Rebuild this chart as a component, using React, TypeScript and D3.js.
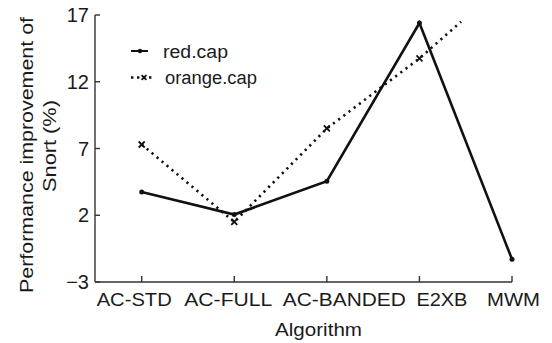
import React from "react";
import * as d3 from "d3";

const categories = ["AC-STD", "AC-FULL", "AC-BANDED", "E2XB", "MWM"];
const redCap = [3.75, 2.05, 4.55, 16.4, -1.3];
// orange.cap: the dotted line stops (no marker) part-way between E2XB and MWM
const orangeCap = [7.3, 1.5, 8.5, 13.75];
const orangeTail = { pos: 3.45, value: 16.5 };
const yTicks = [-3, 2, 7, 12, 17];
const seriesNames = ["red.cap", "orange.cap"];

// layout only: offset of each category label's left edge from its tick, and its drawn width
const xLabelDx = [-45, -50, -44, -3, -25];
const xLabelLen = [75, 88, 123, 51, 53];

const W = 552;
const H = 343;
const FONT = "Liberation Sans, Arial, sans-serif";

export default function App() {
  const x0 = 95;
  const xScale = d3.scaleLinear().domain([0, categories.length - 1]).range([141.7, 512]);
  const yScale = d3.scaleLinear().domain([-3, 17]).range([282, 15]);

  const line = d3
    .line<[number, number]>()
    .x((d) => xScale(d[0]))
    .y((d) => yScale(d[1]));

  const redPts: [number, number][] = redCap.map((v, i) => [i, v]);
  const orangePts: [number, number][] = orangeCap.map((v, i) => [i, v]);
  const orangeLinePts: [number, number][] = [...orangePts, [orangeTail.pos, orangeTail.value]];

  const stroke = "#111";
  const textFill = "#1a1a1a";
  const ts: React.CSSProperties = { fontFamily: FONT };

  const xMark = (cx: number, cy: number, s: number, key: string) => (
    <g key={key} stroke={stroke} strokeWidth={1.8}>
      <line x1={cx - s} y1={cy - s} x2={cx + s} y2={cy + s} />
      <line x1={cx - s} y1={cy + s} x2={cx + s} y2={cy - s} />
    </g>
  );

  return (
    <svg width={W} height={H} style={{ position: "absolute", left: 0, top: 0, background: "#fff" }}>
      <rect width={W} height={H} fill="#fff" />
      <g stroke="#333" strokeWidth={1.4} fill="none">
        <line x1={x0} y1={yScale(17)} x2={x0} y2={yScale(-3)} />
        <line x1={x0} y1={yScale(-3)} x2={xScale(4)} y2={yScale(-3)} />
        {yTicks.map((t) => (
          <line key={"yt" + t} x1={x0} x2={x0 + 5} y1={yScale(t)} y2={yScale(t)} />
        ))}
        {categories.map((c, i) => (
          <line key={"xt" + c} x1={xScale(i)} x2={xScale(i)} y1={yScale(-3)} y2={yScale(-3) - 6} />
        ))}
      </g>
      {yTicks.map((t) => (
        <text key={"yl" + t} x={89} y={yScale(t) + 7} textAnchor="end" fontSize={20} fill={textFill} style={ts}>
          {t < 0 ? "\u2212" + Math.abs(t) : t}
        </text>
      ))}
      {categories.map((c, i) => (
        <text
          key={"xl" + c}
          x={xScale(i) + xLabelDx[i]}
          y={306}
          fontSize={17.5}
          fill={textFill}
          style={ts}
          textLength={xLabelLen[i]}
          lengthAdjust="spacingAndGlyphs"
        >
          {c}
        </text>
      ))}
      <text x={275} y={336} fontSize={17.5} fill={textFill} style={ts} textLength={87} lengthAdjust="spacingAndGlyphs">
        Algorithm
      </text>
      <g transform="translate(33,293) rotate(-90)">
        <text x={0} y={0} fontSize={18} fill={textFill} style={ts} textLength={276} lengthAdjust="spacingAndGlyphs">
          Performance improvement of
        </text>
      </g>
      <g transform="translate(56,192) rotate(-90)">
        <text x={0} y={0} fontSize={18} fill={textFill} style={ts} textLength={92} lengthAdjust="spacingAndGlyphs">
          Snort (%)
        </text>
      </g>
      <path d={line(redPts) || ""} fill="none" stroke={stroke} strokeWidth={2.6} />
      <path d={line(orangeLinePts) || ""} fill="none" stroke={stroke} strokeWidth={2.6} strokeDasharray="2.2,4.3" />
      {redPts.map((d, i) => (
        <circle key={"rp" + i} cx={xScale(d[0])} cy={yScale(d[1])} r={2.5} fill={stroke} />
      ))}
      {orangePts.map((d, i) => xMark(xScale(d[0]), yScale(d[1]), 3, "op" + i))}
      <g>
        <line x1={131} x2={148} y1={51} y2={51} stroke={stroke} strokeWidth={2} />
        <circle cx={140} cy={51} r={2.2} fill={stroke} />
        <text x={163} y={58} fontSize={18} fill={textFill} style={ts} textLength={65} lengthAdjust="spacingAndGlyphs">
          {seriesNames[0]}
        </text>
        <line x1={131} x2={152} y1={77.5} y2={77.5} stroke={stroke} strokeWidth={2.4} strokeDasharray="2.4,3.6" />
        {xMark(144, 77.5, 2.4, "lg")}
        <text x={165} y={84} fontSize={18} fill={textFill} style={ts} textLength={92} lengthAdjust="spacingAndGlyphs">
          {seriesNames[1]}
        </text>
      </g>
    </svg>
  );
}
